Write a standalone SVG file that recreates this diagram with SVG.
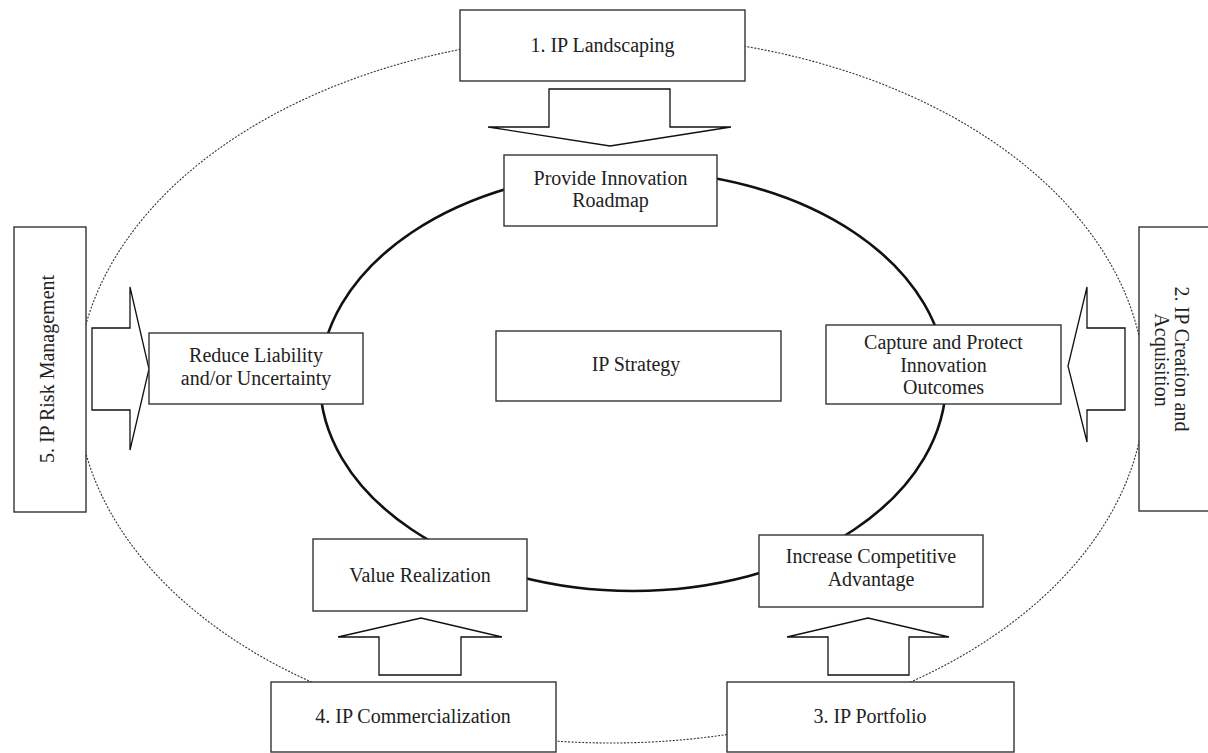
<svg xmlns="http://www.w3.org/2000/svg" width="1208" height="753" viewBox="0 0 1208 753">
  <style>
    .box { fill: #ffffff; stroke: #333333; stroke-width: 1.4; }
    .arrow { fill: #ffffff; stroke: #111111; stroke-width: 1.3; stroke-linejoin: miter; }
    .outer { fill: none; stroke: #333333; stroke-width: 1.1; stroke-dasharray: 2 1.5; }
    .inner { fill: none; stroke: #111111; stroke-width: 2.6; }
    .lbl { font-family: "Liberation Serif", "Times New Roman", serif; font-size: 20px; fill: #222222; text-anchor: middle; }
  </style>
  <rect width="1208" height="753" fill="#ffffff"/>

  <g id="cycles">
    <ellipse class="outer" cx="611" cy="389" rx="534" ry="354"/>
    <ellipse class="inner" cx="633" cy="381" rx="313" ry="210"/>
  </g>

  <g id="connectors">
    <polygon class="arrow" points="549,89 670,89 670,127 731,127 610,146 488,127 549,127"/>
    <polygon class="arrow" points="92,328 130,328 130,287 149,369 130,450 130,410 92,410"/>
    <polygon class="arrow" points="1125,328 1087,328 1087,287 1068,366 1087,442 1087,410 1125,410"/>
    <polygon class="arrow" points="379,675 461,675 461,637 502,637 421,618 338,637 379,637"/>
    <polygon class="arrow" points="828,675 909,675 909,637 949,637 868,618 787,637 828,637"/>
  </g>

  <g id="landscaping">
    <rect class="box" x="460" y="10" width="285" height="71"/>
    <text class="lbl" x="602.5" y="52">1. IP Landscaping</text>
  </g>

  <g id="roadmap">
    <rect class="box" x="504" y="155" width="213" height="71"/>
    <text class="lbl" x="610.5" y="185">Provide Innovation</text>
    <text class="lbl" x="610.5" y="207">Roadmap</text>
  </g>

  <g id="strategy">
    <rect class="box" x="496" y="331" width="285" height="70"/>
    <text class="lbl" x="636" y="371">IP Strategy</text>
  </g>

  <g id="reduce">
    <rect class="box" x="149" y="333" width="214" height="71"/>
    <text class="lbl" x="256" y="362">Reduce Liability</text>
    <text class="lbl" x="256" y="385">and/or Uncertainty</text>
  </g>

  <g id="capture">
    <rect class="box" x="826" y="325" width="235" height="79"/>
    <text class="lbl" x="943.5" y="349">Capture and Protect</text>
    <text class="lbl" x="943.5" y="372">Innovation</text>
    <text class="lbl" x="943.5" y="394">Outcomes</text>
  </g>

  <g id="value">
    <rect class="box" x="313" y="539" width="214" height="72"/>
    <text class="lbl" x="420" y="582">Value Realization</text>
  </g>

  <g id="competitive">
    <rect class="box" x="759" y="535" width="224" height="72"/>
    <text class="lbl" x="871" y="563">Increase Competitive</text>
    <text class="lbl" x="871" y="586">Advantage</text>
  </g>

  <g id="risk">
    <rect class="box" x="14" y="227" width="72" height="285"/>
    <text class="lbl" transform="translate(54,369) rotate(-90)">5. IP Risk Management</text>
  </g>

  <g id="creation">
    <rect class="box" x="1139" y="227" width="100" height="284"/>
    <text class="lbl" transform="translate(1175,359) rotate(90)">2. IP Creation and</text>
    <text class="lbl" transform="translate(1155,360) rotate(90)">Acquisition</text>
  </g>

  <g id="commercialization">
    <rect class="box" x="271" y="682" width="285" height="70"/>
    <text class="lbl" x="413" y="723">4. IP Commercialization</text>
  </g>

  <g id="portfolio">
    <rect class="box" x="727" y="682" width="287" height="70"/>
    <text class="lbl" x="870" y="723">3. IP Portfolio</text>
  </g>
</svg>
